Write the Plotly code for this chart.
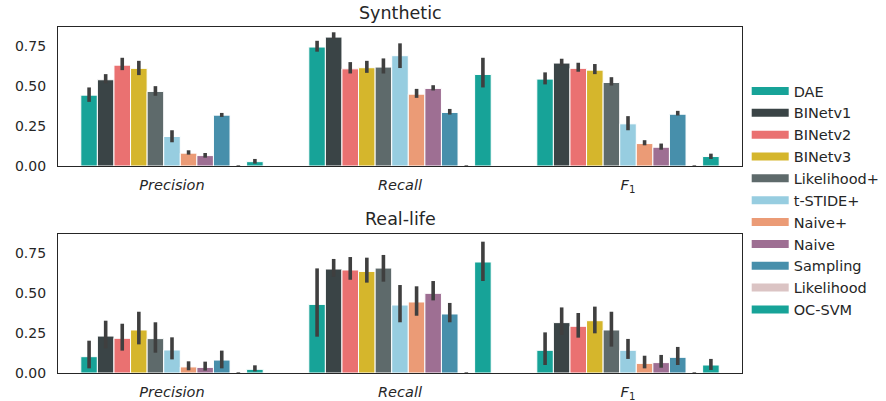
import plotly.graph_objects as go

methods = ["DAE", "BINetv1", "BINetv2", "BINetv3", "Likelihood+", "t-STIDE+",
           "Naive+", "Naive", "Sampling", "Likelihood", "OC-SVM"]
colors = ["#17a398", "#3a4446", "#ea7171", "#d5b62c", "#5e6a6b", "#97cde0",
          "#eb9b76", "#9e6f93", "#478fab", "#dbc4c4", "#17a398"]
metrics = ["Precision", "Recall", "F1"]
metric_labels = ["<i>Precision</i>", "<i>Recall</i>", "<i>F</i><sub>1</sub>"]

# Synthetic: value, low, high per method for [Precision, Recall, F1]
syn_val = {
    "DAE": [0.442, 0.742, 0.542], "BINetv1": [0.538, 0.804, 0.642],
    "BINetv2": [0.629, 0.606, 0.609], "BINetv3": [0.609, 0.613, 0.598],
    "Likelihood+": [0.465, 0.617, 0.521], "t-STIDE+": [0.184, 0.688, 0.263],
    "Naive+": [0.080, 0.448, 0.140], "Naive": [0.065, 0.484, 0.117],
    "Sampling": [0.317, 0.334, 0.323], "Likelihood": [0.0, 0.0, 0.0],
    "OC-SVM": [0.027, 0.571, 0.059],
}
syn_lo = {
    "DAE": [0.400, 0.713, 0.509], "BINetv1": [0.515, 0.792, 0.625],
    "BINetv2": [0.598, 0.577, 0.588], "BINetv3": [0.567, 0.581, 0.573],
    "Likelihood+": [0.438, 0.577, 0.502], "t-STIDE+": [0.148, 0.611, 0.223],
    "Naive+": [0.071, 0.425, 0.129], "Naive": [0.052, 0.471, 0.102],
    "Sampling": [0.306, 0.321, 0.315], "Likelihood": [0.0, 0.0, 0.0],
    "OC-SVM": [0.015, 0.490, 0.044],
}
syn_hi = {
    "DAE": [0.490, 0.781, 0.584], "BINetv1": [0.573, 0.834, 0.669],
    "BINetv2": [0.675, 0.648, 0.644], "BINetv3": [0.656, 0.656, 0.636],
    "Likelihood+": [0.498, 0.671, 0.554], "t-STIDE+": [0.223, 0.765, 0.311],
    "Naive+": [0.098, 0.481, 0.161], "Naive": [0.081, 0.504, 0.140],
    "Sampling": [0.331, 0.356, 0.344], "Likelihood": [0.004, 0.004, 0.004],
    "OC-SVM": [0.044, 0.675, 0.077],
}

# Real-life
real_val = {
    "DAE": [0.102, 0.429, 0.142], "BINetv1": [0.231, 0.650, 0.315],
    "BINetv2": [0.217, 0.644, 0.292], "BINetv3": [0.269, 0.635, 0.327],
    "Likelihood+": [0.215, 0.656, 0.269], "t-STIDE+": [0.144, 0.425, 0.142],
    "Naive+": [0.038, 0.444, 0.060], "Naive": [0.035, 0.498, 0.065],
    "Sampling": [0.081, 0.369, 0.098], "Likelihood": [0.0, 0.0, 0.0],
    "OC-SVM": [0.023, 0.694, 0.050],
}
real_lo = {
    "DAE": [0.029, 0.227, 0.050], "BINetv1": [0.154, 0.602, 0.238],
    "BINetv2": [0.140, 0.583, 0.221], "BINetv3": [0.179, 0.565, 0.248],
    "Likelihood+": [0.127, 0.571, 0.165], "t-STIDE+": [0.085, 0.317, 0.088],
    "Naive+": [0.017, 0.358, 0.029], "Naive": [0.015, 0.454, 0.033],
    "Sampling": [0.029, 0.317, 0.050], "Likelihood": [0.0, 0.0, 0.0],
    "OC-SVM": [0.010, 0.575, 0.019],
}
real_hi = {
    "DAE": [0.202, 0.654, 0.254], "BINetv1": [0.327, 0.713, 0.410],
    "BINetv2": [0.308, 0.725, 0.375], "BINetv3": [0.383, 0.721, 0.415],
    "Likelihood+": [0.317, 0.738, 0.383], "t-STIDE+": [0.223, 0.550, 0.213],
    "Naive+": [0.073, 0.542, 0.108], "Naive": [0.071, 0.575, 0.113],
    "Sampling": [0.140, 0.438, 0.163], "Likelihood": [0.004, 0.004, 0.004],
    "OC-SVM": [0.048, 0.821, 0.088],
}

y_ticks = [0.0, 0.25, 0.5, 0.75]

TEXT = "#262626"
ERR = "#3f3f3f"

fig = go.Figure()

panels = [("y", syn_val, syn_lo, syn_hi), ("y2", real_val, real_lo, real_hi)]
for yref, vals, los, his in panels:
    xref = "x" if yref == "y" else "x2"
    for m, c in zip(methods, colors):
        v = vals[m]
        fig.add_trace(go.Bar(
            x=metrics, y=v, name=m, xaxis=xref, yaxis=yref,
            marker=dict(color=c, line=dict(color="white", width=1)),
            error_y=dict(type="data", symmetric=False,
                         array=[h - a for h, a in zip(his[m], v)],
                         arrayminus=[a - l for a, l in zip(v, los[m])],
                         color=ERR, thickness=3.6, width=0),
            showlegend=False, legendgroup=m,
        ))

# legend entries (wide swatches)
for m, c in zip(methods, colors):
    fig.add_trace(go.Scatter(
        x=[None], y=[None], mode="lines", name=m, legendgroup=m,
        line=dict(color=c, width=8), xaxis="x", yaxis="y", showlegend=True,
    ))

axis_common = dict(showline=True, mirror=True, linecolor="#262626", linewidth=1.3,
                   ticks="outside", tickcolor="rgba(0,0,0,0)",
                   showgrid=False, zeroline=False, automargin=False)
yfont = dict(family="DejaVu Sans", size=14, color=TEXT)
xfont = dict(family="DejaVu Sans", size=14.5, color=TEXT)

# pixel geometry -> paper fractions
W, H = 886, 401
ML, MR, MT, MB = 58, 6, 4, 28
PW = W - ML - MR
PH = H - MT - MB
base = H - MB


def py(pix):
    return (base - pix) / PH


def px(pix):
    return (pix - ML) / PW


fig.update_layout(
    width=W, height=H,
    margin=dict(l=ML, r=MR, t=MT, b=MB, autoexpand=False),
    paper_bgcolor="white", plot_bgcolor="white",
    barmode="group", bargap=0.2, bargroupgap=0,
    font=dict(family="DejaVu Sans", color=TEXT, size=14),
    xaxis=dict(domain=[0, px(742)], anchor="y", tickvals=metrics, ticktext=metric_labels,
               ticklen=5, tickfont=xfont, **axis_common),
    yaxis=dict(domain=[py(166), py(27)], anchor="x", range=[0, 0.867], tickvals=y_ticks,
               tickformat=".2f", ticklen=8, tickfont=yfont, **axis_common),
    xaxis2=dict(domain=[0, px(742)], anchor="y2", tickvals=metrics, ticktext=metric_labels,
                ticklen=5, tickfont=xfont, **axis_common),
    yaxis2=dict(domain=[0, py(234)], anchor="x2", range=[0, 0.869], tickvals=y_ticks,
                tickformat=".2f", ticklen=8, tickfont=yfont, **axis_common),
    legend=dict(x=px(746.7), xanchor="left", y=py(75), yanchor="top",
                font=dict(family="DejaVu Sans", size=14.5, color=TEXT),
                itemwidth=37, bgcolor="rgba(0,0,0,0)", tracegroupgap=0,
                traceorder="normal"),
    annotations=[
        dict(text="Synthetic", x=px(400), xref="paper", y=py(13), yref="paper",
             yanchor="middle", showarrow=False, font=dict(size=17.5, color=TEXT)),
        dict(text="Real-life", x=px(400), xref="paper", y=py(219), yref="paper",
             yanchor="middle", showarrow=False, font=dict(size=17.5, color=TEXT)),
    ],
)

fig.write_html("out.html",
               config={"displayModeBar": False},
               post_script="document.body.style.margin='0px';"
                           "document.body.style.overflow='hidden';")
